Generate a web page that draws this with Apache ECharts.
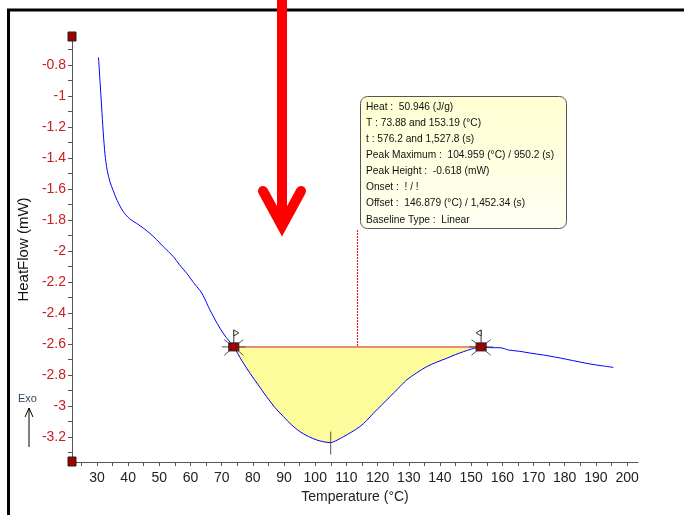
<!DOCTYPE html>
<html><head><meta charset="utf-8">
<script src="https://cdn.jsdelivr.net/npm/echarts@6/dist/echarts.min.js"></script>
<style>html,body{margin:0;padding:0;background:#fff}#c{width:684px;height:515px}</style>
</head><body><div id="c"></div>
<script>
// ---- data ----
const temperature = [30.5,31.0,31.5,32.0,32.6,33.3,34.2,35.2,36.5,38.4,40.5,42.7,45,47,49,51.3,54.5,56.5,58.8,61,63,64.1,66.2,69.4,71.5,73.88,76.5,79.1,81.7,84.4,87,89.8,92.5,95.1,97.8,100.5,102.6,104.96,107,109,111.6,114.3,116.5,118.6,121.3,124,126.6,129.3,132.5,135.7,139,142.2,144.9,147.5,150.1,153.19,156,159.2,162,165.4,169,173.1,176.8,180.6,184.3,188.1,192,195.6];
const heatFlow = [-0.75,-0.91,-1.07,-1.23,-1.38,-1.48,-1.555,-1.61,-1.675,-1.745,-1.793,-1.822,-1.855,-1.887,-1.925,-1.973,-2.037,-2.09,-2.145,-2.205,-2.255,-2.29,-2.38,-2.498,-2.56,-2.62,-2.71,-2.79,-2.865,-2.941,-3.01,-3.07,-3.125,-3.167,-3.198,-3.221,-3.232,-3.238,-3.222,-3.2,-3.17,-3.135,-3.095,-3.049,-2.995,-2.941,-2.888,-2.834,-2.788,-2.748,-2.718,-2.693,-2.67,-2.651,-2.634,-2.62,-2.625,-2.625,-2.64,-2.648,-2.66,-2.672,-2.685,-2.7,-2.715,-2.73,-2.742,-2.752];
const integrationStart = 73.88;
const integrationEnd = 153.19;
const baselineValue = -2.62;
const peakTemp = 104.96;
const peakValue = -3.238;
const xLabels = [30,40,50,60,70,80,90,100,110,120,130,140,150,160,170,180,190,200];
const xTicks = [25,30,35,40,45,50,55,60,65,70,75,80,85,90,95,100,105,110,115,120,125,130,135,140,145,150,155,160,165,170,175,180,185,190,195,200];
const yLabels = [-3.2,-3,-2.8,-2.6,-2.4,-2.2,-2,-1.8,-1.6,-1.4,-1.2,-1,-0.8];
const yTicks = [-3.3,-3.2,-3.1,-3,-2.9,-2.8,-2.7,-2.6,-2.5,-2.4,-2.3,-2.2,-2.1,-2,-1.9,-1.8,-1.7,-1.6,-1.5,-1.4,-1.3,-1.2,-1.1,-1,-0.9,-0.8,-0.7];
const xMin = 22, xMax = 203.5, yMin = -3.363, yMax = -0.619;
const infoLines = [
  'Heat :  50.946 (J/g)',
  'T : 73.88 and 153.19 (°C)',
  't : 576.2 and 1,527.8 (s)',
  'Peak Maximum :  104.959 (°C) / 950.2 (s)',
  'Peak Height :  -0.618 (mW)',
  'Onset :  ! / !',
  'Offset :  146.879 (°C) / 1,452.34 (s)',
  'Baseline Type :  Linear'
];

const curve = temperature.map((t,i)=>[t,heatFlow[i]]);
const fillData = curve.filter(p=>p[0]>=integrationStart && p[0]<=integrationEnd);

const chart = echarts.init(document.getElementById('c'));
const FONT = 'Liberation Sans';

function endpointMarker(api, x, y, flagRight){
  const c = api.coord([x,y]);
  const ch = [];
  const spokes = [[-1,0],[1,0],[-0.8,-0.6],[0.8,-0.6],[-0.8,0.7],[0.8,0.7]];
  spokes.forEach(s=>{
    ch.push({type:'line',shape:{x1:c[0]+s[0]*5,y1:c[1]+s[1]*5,x2:c[0]+s[0]*12,y2:c[1]+s[1]*12},style:{stroke:'#555',lineWidth:1}});
  });
  ch.push({type:'line',shape:{x1:c[0],y1:c[1]-4,x2:c[0],y2:c[1]-17},style:{stroke:'#333',lineWidth:1}});
  const fx = flagRight ? 1 : -1;
  ch.push({type:'polygon',shape:{points:[[c[0],c[1]-17],[c[0]+fx*5,c[1]-14],[c[0],c[1]-11]]},style:{fill:'#fff',stroke:'#333',lineWidth:1}});
  ch.push({type:'rect',shape:{x:c[0]-5,y:c[1]-4,width:10,height:8},style:{fill:'#a00000',stroke:'#222',lineWidth:1}});
  return ch;
}

chart.setOption({
  animation:false,
  grid:{left:72,right:46,top:37,bottom:53},
  xAxis:{type:'value',min:xMin,max:xMax,
    name:'Temperature (°C)',nameLocation:'middle',nameGap:27,
    nameTextStyle:{color:'#222',fontSize:14,fontFamily:FONT},
    axisLine:{show:true,lineStyle:{color:'#555',width:1}},
    axisTick:{show:true,customValues:xTicks,length:4,lineStyle:{color:'#555'}},
    axisLabel:{customValues:xLabels,color:'#222',fontSize:14,fontFamily:FONT,margin:9},
    splitLine:{show:false}},
  yAxis:{type:'value',min:yMin,max:yMax,
    name:'HeatFlow (mW)',nameLocation:'middle',nameGap:33,
    nameTextStyle:{color:'#111',fontSize:15,fontFamily:FONT},
    axisLine:{show:true,lineStyle:{color:'#555',width:1}},
    axisTick:{show:true,customValues:yTicks,length:4,lineStyle:{color:'#555'}},
    axisLabel:{customValues:yLabels,color:'#c8201e',fontSize:14,fontFamily:FONT,margin:6},
    splitLine:{show:false}},
  series:[
    {type:'line',data:fillData,symbol:'none',smooth:0.3,lineStyle:{width:0},
     areaStyle:{origin:baselineValue,color:'#fcfc9c',opacity:1},z:1},
    {type:'line',data:[[integrationStart,baselineValue],[integrationEnd,baselineValue]],symbol:'none',
     lineStyle:{color:'#e58e72',width:2},z:2},
    {type:'line',data:curve,symbol:'none',smooth:0.3,lineStyle:{color:'#0000ff',width:1},z:3},
    {type:'custom',data:[[integrationStart,baselineValue]],z:5,clip:false,
     renderItem:function(params,api){
       const ch = [];
       // dotted leader from baseline midpoint up to info box
       const mid = api.coord([(integrationStart+integrationEnd)/2, baselineValue]);
       const mx = Math.round(mid[0])+0.5;
       ch.push({type:'line',shape:{x1:mx,y1:mid[1]-1,x2:mx,y2:229},style:{stroke:'#e02020',lineWidth:1.2,lineDash:[2,1]}});
       // peak tick
       const pk = api.coord([peakTemp,peakValue]);
       ch.push({type:'line',shape:{x1:pk[0],y1:pk[1]-11,x2:pk[0],y2:pk[1]+12},style:{stroke:'#555',lineWidth:1}});
       endpointMarker(api,integrationStart,baselineValue,true).forEach(e=>ch.push(e));
       endpointMarker(api,integrationEnd,baselineValue,false).forEach(e=>ch.push(e));
       // axis end squares
       [[xMin,yMax],[xMin,yMin]].forEach(p=>{
         const c = api.coord(p);
         ch.push({type:'rect',shape:{x:c[0]-4,y:c[1]-5,width:8,height:9},style:{fill:'#a00000',stroke:'#222',lineWidth:1}});
       });
       return {type:'group',children:ch};
     }}
  ],
  graphic:[
    // frame
    {type:'polyline',shape:{points:[[8.5,515],[8.5,10],[684,10]]},style:{stroke:'#000',lineWidth:3,fill:null},z:10},
    // info box
    {type:'rect',shape:{x:360.5,y:96.5,width:206,height:132,r:7},
     style:{fill:new echarts.graphic.LinearGradient(0,0,0,1,[{offset:0,color:'#ffffd2'},{offset:1,color:'#fffff2'}]),stroke:'#555',lineWidth:1},z:20},
    {type:'text',left:366,top:99,z:21,
     style:{text:infoLines.join('\n'),fill:'#111',font:'10.2px "Liberation Sans"',lineHeight:16.1}},
    // Exo indicator
    {type:'text',left:18,top:393,z:21,style:{text:'Exo',fill:'#334466',font:'11px "Liberation Sans"'}},
    {type:'line',shape:{x1:29,y1:447,x2:29,y2:408},style:{stroke:'#000',lineWidth:1},z:21},
    {type:'polyline',shape:{points:[[25,417],[29,408],[33,417]]},style:{stroke:'#000',lineWidth:1,fill:null},z:21},
    // red arrow
    {type:'line',shape:{x1:282,y1:0,x2:282,y2:222},style:{stroke:'#ff0000',lineWidth:10},z:30},
    {type:'polyline',shape:{points:[[263,191],[282,226],[301,191]]},style:{stroke:'#ff0000',lineWidth:10,lineCap:'round',lineJoin:'miter',fill:null},z:30}
  ]
});
</script></body></html>
